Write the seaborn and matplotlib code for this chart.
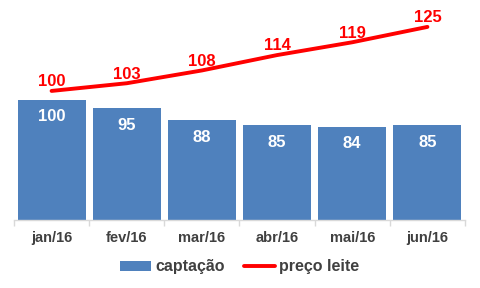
import matplotlib
matplotlib.use("Agg")
import matplotlib.pyplot as plt
import seaborn as sns
import pandas as pd
from matplotlib.patches import Patch
from matplotlib.lines import Line2D
from matplotlib.ticker import FixedLocator

months = ["jan/16", "fev/16", "mar/16", "abr/16", "mai/16", "jun/16"]
captacao = [100, 95, 88, 85, 84, 85]
preco_leite = [100, 103, 108, 114, 119, 125]

sns.set_theme(style="white")
plt.rcParams["font.family"] = ["Liberation Sans", "DejaVu Sans"]

BLUE = "#4F81BD"
RED = "#FF0000"
GRAY_TXT = "#404040"

df = pd.DataFrame({"mes": months, "captacao": captacao, "preco": preco_leite})

W, H = 480, 288
fig = plt.figure(figsize=(W / 100, H / 100), dpi=100)
left, right, top, bottom = 14, 465, 10, 220
ax = fig.add_axes([left / W, 1 - bottom / H, (right - left) / W, (bottom - top) / H])

sns.barplot(data=df, x="mes", y="captacao", color=BLUE, width=0.905,
            saturation=1, linewidth=0, ax=ax)
ax.set_ylim(29.4, 152.9)
ax.set_xlim(-0.5, 5.5)
for i, v in enumerate(captacao):
    ax.text(i, v - 9.8, f"{v}", ha="center", va="center", color="white",
            fontsize=12, fontweight="bold")

ax2 = ax.twinx()
sns.lineplot(data=df, x="mes", y="preco", color=RED, linewidth=2.8, ax=ax2,
             sort=False)
ax2.set_ylim(49.6, 131.6)
ax2.set_xlim(-0.5, 5.5)
for i, v in enumerate(preco_leite):
    ax2.text(i, v + 3.6, f"{v}", ha="center", va="center", color=RED,
             fontsize=12, fontweight="bold")

for a in (ax, ax2):
    for s in a.spines.values():
        s.set_visible(False)
    a.set_ylabel("")
    a.set_xlabel("")
    a.set_yticks([])

ax.spines["bottom"].set_visible(True)
ax.spines["bottom"].set_color("#D9D9D9")
ax.spines["bottom"].set_linewidth(1)
ax.set_xticks(range(len(months)))
ax.set_xticklabels(months, fontsize=10.5, fontweight="bold", color=GRAY_TXT)
ax.tick_params(axis="x", which="major", length=0, pad=8, labelbottom=True)
ax.xaxis.set_minor_locator(FixedLocator([i - 0.5 for i in range(len(months) + 1)]))
ax.tick_params(axis="x", which="minor", length=4, color="#D9D9D9", width=1,
               bottom=True)
ax2.tick_params(axis="x", which="both", top=False, labeltop=False)

handles = [Patch(facecolor=BLUE, edgecolor="none"),
           Line2D([0], [0], color=RED, linewidth=2.8)]
leg = fig.legend(handles, ["captação", "preço leite"], loc="center",
                 bbox_to_anchor=(0.5, 1 - 267 / H), ncol=2, frameon=False,
                 prop={"size": 11.5, "weight": "bold"}, handlelength=1.9,
                 handleheight=0.6, columnspacing=1.2, handletextpad=0.3)
for t in leg.get_texts():
    t.set_color(GRAY_TXT)

fig.savefig("out.png", dpi=100)
